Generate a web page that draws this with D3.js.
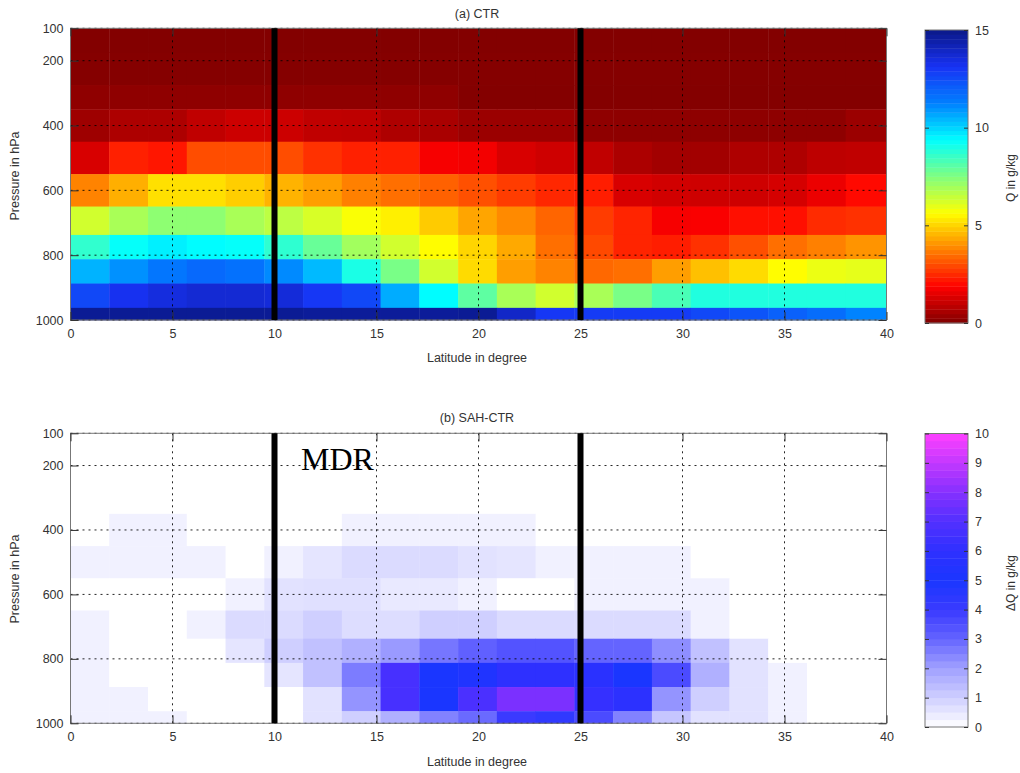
<!DOCTYPE html>
<html>
<head>
<meta charset="utf-8">
<script src="https://cdn.jsdelivr.net/npm/d3@7"></script>
<style>
  html, body { margin: 0; padding: 0; background: #fff; }
  svg { display: block; }
  text { font-family: "Liberation Sans", Arial, Helvetica, sans-serif; fill: #333; }
</style>
</head>
<body>
<svg id="chart" width="1020" height="773"></svg>
<script>
// ---------------- DATA ----------------
// latitude cell edges (deg) and pressure cell edges (hPa), rows listed top (100 hPa) to bottom (1000 hPa)
const latEdges = [0, 1.9, 3.8, 5.7, 7.6, 9.5, 11.4, 13.3, 15.2, 17.1, 19.0, 20.9, 22.8, 24.7, 26.6, 28.5, 30.4, 32.3, 34.2, 36.1, 38.0, 40];
const presEdges = [100, 175, 275, 350, 450, 550, 650, 737.5, 812.5, 887.5, 962.5, 1000];

const latTicks = [0, 5, 10, 15, 20, 25, 30, 35, 40];
const presTicks = [100, 200, 400, 600, 800, 1000];
const mdrLats = [10, 25];

const qTicks = [0, 5, 10, 15];
const dqTicks = [0, 1, 2, 3, 4, 5, 6, 7, 8, 9, 10];

// (a) CTR specific humidity Q (g/kg)
const qRow100  = [0.04,0.04,0.04,0.04,0.04,0.04,0.04,0.04,0.04,0.04,0.04,0.04,0.04,0.04,0.04,0.04,0.04,0.04,0.04,0.04,0.04];
const qRow200  = [0.08,0.08,0.08,0.08,0.08,0.08,0.08,0.08,0.08,0.08,0.08,0.08,0.08,0.08,0.08,0.08,0.08,0.08,0.08,0.08,0.08];
const qRow300  = [0.22,0.22,0.22,0.22,0.22,0.22,0.22,0.22,0.22,0.22,0.06,0.06,0.06,0.06,0.06,0.06,0.06,0.06,0.06,0.06,0.06];
const qRow400  = [0.45,0.66,0.66,0.94,1.12,1.12,0.94,0.92,0.68,0.6,0.4,0.4,0.4,0.22,0.2,0.2,0.2,0.2,0.2,0.2,0.4];
const qRow500  = [1.3,2.35,2.2,3.0,3.0,3.0,2.6,2.35,2.35,1.75,1.7,1.3,1.15,0.95,0.65,0.5,0.5,0.68,0.68,0.9,0.95];
const qRow600  = [3.8,4.45,5.17,5.17,4.9,4.5,4.2,3.75,3.5,3.3,3.05,2.75,2.45,2.3,1.3,1.2,1.15,1.15,1.25,1.6,2.0];
const qRow700  = [6.3,6.9,7.3,7.3,6.9,6.6,6.2,5.7,5.4,4.85,4.3,3.9,3.35,2.75,2.4,1.75,1.8,2.1,2.1,2.5,2.6];
const qRow775  = [8.66,9.3,9.6,9.4,9.3,8.7,7.85,7.0,6.3,5.6,5.0,4.35,3.5,2.95,2.4,2.3,2.6,3.05,3.5,3.75,4.05];
const qRow850  = [10.5,11.0,11.5,11.8,11.6,11.1,10.4,9.0,7.6,6.3,5.1,4.2,3.8,3.4,3.5,4.2,4.7,5.1,5.6,5.9,6.0];
const qRow925  = [12.6,13.2,13.5,13.7,13.7,13.6,13.0,12.6,10.6,9.4,8.0,6.9,6.3,6.9,7.6,8.3,8.9,8.9,8.9,8.9,8.9];
const qRow1000 = [14.8,14.8,14.8,14.8,14.8,14.8,14.7,14.7,14.7,14.7,14.8,13.9,13.0,12.9,12.9,12.9,12.6,12.3,12.0,11.7,11.2];
const qCTR = [qRow100, qRow200, qRow300, qRow400, qRow500, qRow600, qRow700, qRow775, qRow850, qRow925, qRow1000];

// (b) SAH-CTR difference dQ (g/kg)
const dRow100  = [0,0,0,0,0,0,0,0,0,0,0,0,0,0,0,0,0,0,0,0,0];
const dRow200  = [0,0,0,0,0,0,0,0,0,0,0,0,0,0,0,0,0,0,0,0,0];
const dRow300  = [0,0,0,0,0,0,0,0,0,0,0,0,0,0,0,0,0,0,0,0,0];
const dRow400  = [0,0.3,0.3,0,0,0,0,0.3,0.3,0.3,0.3,0.3,0,0,0,0,0,0,0,0,0];
const dRow500  = [0.3,0.3,0.3,0.3,0,0.3,0.55,0.75,0.75,0.75,0.6,0.55,0.3,0.3,0.3,0.3,0,0,0,0,0];
const dRow600  = [0,0,0,0,0.3,0.6,0.65,0.65,0.45,0.45,0.3,0,0,0.3,0.3,0.3,0.3,0,0,0,0];
const dRow700  = [0.3,0,0,0.3,0.75,0.75,1.0,0.7,0.7,1.0,1.0,0.75,0.75,0.75,0.75,0.75,0.3,0,0,0,0];
const dRow775  = [0.3,0,0,0,0.55,1.0,1.3,1.65,2.1,2.7,3.1,3.4,3.4,3.0,3.0,2.3,1.3,0.6,0,0,0];
const dRow850  = [0.3,0,0,0,0,0.55,1.3,2.6,6.7,5.0,5.3,6.0,6.0,5.8,5.0,3.6,1.65,0.6,0.3,0,0];
const dRow925  = [0.3,0.3,0,0,0,0,0.6,2.2,6.7,5.0,6.8,7.8,7.8,6.2,5.9,2.2,1.0,0.6,0.3,0,0];
const dRow1000 = [0.3,0.3,0.3,0,0,0,0.6,1.0,1.65,2.5,2.9,4.0,4.3,3.6,2.5,1.2,0.6,0.6,0.3,0,0];
const dQ = [dRow100, dRow200, dRow300, dRow400, dRow500, dRow600, dRow700, dRow775, dRow850, dRow925, dRow1000];

// ---------------- COLOUR MAPS ----------------
// flipped jet (0 -> dark red, 15 -> dark blue), knots as in MATLAB jet
const qColor = d3.scaleLinear()
  .domain([0, 1.875, 3.75, 5.625, 7.5, 9.375, 11.25, 13.125, 15])
  .range(["#800000", "#ff0000", "#ff8000", "#ffff00", "#80ff80", "#00ffff", "#0080ff", "#1832f4", "#0a1888"])
  .clamp(true);
const dqColor = d3.scaleLinear()
  .domain([0, 1, 2, 3, 4, 5, 6, 7, 8, 9, 10])
  .range(["#ffffff", "#cfcfff", "#a0a0ff", "#6464ff", "#3a3aff", "#1a36ff", "#2e30ff", "#5230ff", "#8530ff", "#c238ff", "#ff40ff"])
  .clamp(true);

// ---------------- LAYOUT ----------------
const svg = d3.select("#chart");
const x = d3.scaleLinear().domain([0, 40]).range([70.5, 886.5]);

const panels = [
  { y: d3.scaleLinear().domain([100, 1000]).range([28.3, 320]), data: qCTR, color: qColor,
    title: "(a) CTR", titleY: 15, xlabY: 359, ylabY: 176,
    cb: { scale: d3.scaleLinear().domain([0, 15]).range([323, 30]), ticks: qTicks, n: 64, color: qColor, label: "Q in g/kg", labelY: 178 },
    mdr: false },
  { y: d3.scaleLinear().domain([100, 1000]).range([433.3, 723.3]), data: dQ, color: dqColor,
    title: "(b) SAH-CTR", titleY: 419, xlabY: 763, ylabY: 579,
    cb: { scale: d3.scaleLinear().domain([0, 10]).range([727, 433.5]), ticks: dqTicks, n: 40, color: dqColor, label: "\u0394Q in g/kg", labelY: 583 },
    mdr: true }
];

const fmtInt = d3.format("d");
const fmtNone = () => "";

panels.forEach(p => {
  const y = p.y;
  const g = svg.append("g");
  const x0 = x.range()[0], x1 = x.range()[1];
  const y0 = y(100), y1 = y(1000);

  // cells
  const cells = [];
  p.data.forEach((row, r) => row.forEach((v, c) => cells.push({ r, c, v })));
  g.append("g").selectAll("rect").data(cells).join("rect")
    .attr("x", d => x(latEdges[d.c]))
    .attr("width", d => x(latEdges[d.c + 1]) - x(latEdges[d.c]) + 0.4)
    .attr("y", d => y(presEdges[d.r]))
    .attr("height", d => y(presEdges[d.r + 1]) - y(presEdges[d.r]) + 0.4)
    .attr("fill", d => p.color(d.v));

  // dotted grid
  const grid = g.append("g").attr("stroke", "#000").attr("stroke-width", 1).attr("stroke-dasharray", "2,4").attr("opacity", 0.85);
  grid.selectAll("line.v").data(latTicks.slice(1, -1)).join("line")
    .attr("x1", d => x(d)).attr("x2", d => x(d)).attr("y1", y0).attr("y2", y1);
  grid.selectAll("line.h").data(presTicks).join("line")
    .attr("x1", x0).attr("x2", x1).attr("y1", d => y(d)).attr("y2", d => y(d));

  // box
  g.append("rect").attr("x", x0).attr("y", y0).attr("width", x1 - x0).attr("height", y1 - y0)
    .attr("fill", "none").attr("stroke", "#777").attr("stroke-width", 1);

  // axes with inward ticks
  const axL = g.append("g").attr("transform", `translate(${x0},0)`)
    .call(d3.axisLeft(y).tickValues(presTicks).tickFormat(fmtInt).tickSizeInner(-8).tickSizeOuter(0).tickPadding(7));
  const axR = g.append("g").attr("transform", `translate(${x1},0)`)
    .call(d3.axisRight(y).tickValues(presTicks).tickSizeInner(-8).tickSizeOuter(0).tickFormat(fmtNone));
  const axB = g.append("g").attr("transform", `translate(0,${y1})`)
    .call(d3.axisBottom(x).tickValues(latTicks).tickFormat(fmtInt).tickSizeInner(-8).tickSizeOuter(0).tickPadding(9));
  const axT = g.append("g").attr("transform", `translate(0,${y0})`)
    .call(d3.axisTop(x).tickValues(latTicks).tickSizeInner(-8).tickSizeOuter(0).tickFormat(fmtNone));
  [axL, axR, axB, axT].forEach(a => {
    a.select(".domain").remove();
    a.selectAll(".tick line").attr("stroke", "#333");
    a.selectAll("text").attr("font-size", 12.5).attr("fill", "#333")
      .attr("font-family", '"Liberation Sans", Arial, sans-serif');
  });

  // MDR boundaries
  g.append("g").selectAll("line").data(mdrLats).join("line")
    .attr("x1", d => x(d)).attr("x2", d => x(d)).attr("y1", y0).attr("y2", y1)
    .attr("stroke", "#000").attr("stroke-width", 6);

  if (p.mdr) {
    g.append("text").attr("x", 301).attr("y", 470)
      .style("font-family", '"Liberation Serif", "Times New Roman", serif')
      .style("fill", "#000").attr("font-size", 32).text("MDR");
  }

  // titles and labels
  g.append("text").attr("x", 477).attr("y", p.titleY).attr("text-anchor", "middle")
    .attr("dominant-baseline", "middle").attr("font-size", 12.5).text(p.title);
  g.append("text").attr("x", 477).attr("y", p.xlabY).attr("text-anchor", "middle")
    .attr("dominant-baseline", "middle").attr("font-size", 12.5).text("Latitude in degree");
  g.append("text").attr("transform", `translate(16,${p.ylabY}) rotate(-90)`).attr("text-anchor", "middle")
    .attr("dominant-baseline", "middle").attr("font-size", 12.5).text("Pressure in hPa");

  // colour bar
  const cb = p.cb;
  const cbx0 = 925, cbx1 = 968;
  const [vmin, vmax] = cb.scale.domain();
  const step = (vmax - vmin) / cb.n;
  const bands = d3.range(cb.n).map(i => vmin + i * step);
  g.append("g").selectAll("rect").data(bands).join("rect")
    .attr("x", cbx0).attr("width", cbx1 - cbx0)
    .attr("y", d => cb.scale(d + step))
    .attr("height", d => cb.scale(d) - cb.scale(d + step) + 0.4)
    .attr("fill", d => cb.color(d + step / 2));
  g.append("rect").attr("x", cbx0).attr("y", cb.scale(vmax)).attr("width", cbx1 - cbx0)
    .attr("height", cb.scale(vmin) - cb.scale(vmax)).attr("fill", "none").attr("stroke", "#777");
  const cbR = g.append("g").attr("transform", `translate(${cbx1},0)`)
    .call(d3.axisRight(cb.scale).tickValues(cb.ticks).tickFormat(fmtInt).tickSizeInner(-4).tickSizeOuter(0).tickPadding(7));
  const cbL = g.append("g").attr("transform", `translate(${cbx0},0)`)
    .call(d3.axisLeft(cb.scale).tickValues(cb.ticks).tickSizeInner(-4).tickSizeOuter(0).tickFormat(fmtNone));
  [cbR, cbL].forEach(a => {
    a.select(".domain").remove();
    a.selectAll(".tick line").attr("stroke", "#333");
    a.selectAll("text").attr("font-size", 12.5).attr("fill", "#333")
      .attr("font-family", '"Liberation Sans", Arial, sans-serif');
  });
  g.append("text").attr("transform", `translate(1012,${cb.labelY}) rotate(-90)`).attr("text-anchor", "middle")
    .attr("dominant-baseline", "middle").attr("font-size", 12).text(cb.label);
});
</script>
</body>
</html>
